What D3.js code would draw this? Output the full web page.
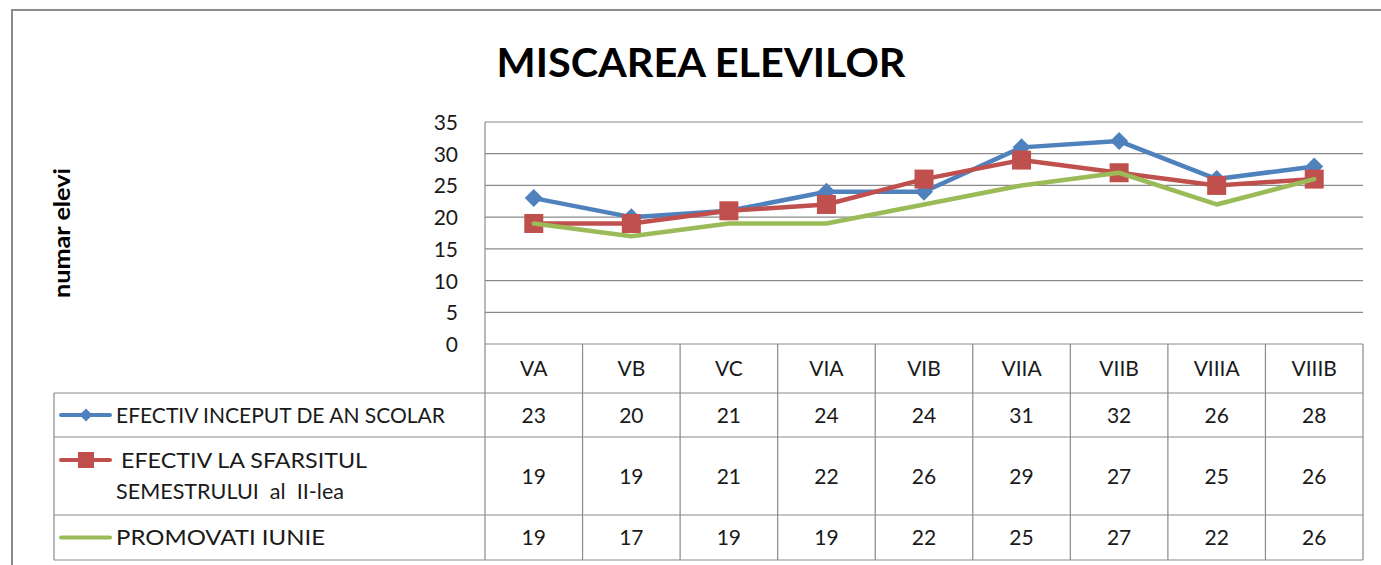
<!DOCTYPE html>
<html>
<head>
<meta charset="utf-8">
<script src="https://cdn.jsdelivr.net/npm/d3@7"></script>
<style>
html,body{margin:0;padding:0;background:#fff;}
svg{display:block;}
text{font-family:Lato,"Open Sans",sans-serif;fill:#1a1a1a;}
</style>
</head>
<body>
<svg id="chart" width="1381" height="565"></svg>
<script>
const title = "MISCAREA ELEVILOR";
const yTitle = "numar elevi";
const categories = ["VA","VB","VC","VIA","VIB","VIIA","VIIB","VIIIA","VIIIB"];
const yTicks = [0,5,10,15,20,25,30,35];
const seriesNames = ["EFECTIV INCEPUT DE AN SCOLAR", "EFECTIV LA SFARSITUL|SEMESTRULUI  al  II-lea", "PROMOVATI IUNIE"];
const inceput = [23,20,21,24,24,31,32,26,28];
const sfarsit = [19,19,21,22,26,29,27,25,26];
const promovati = [19,17,19,19,22,25,27,22,26];
const seriesColors = ["#4F81BD","#C0504D","#9BBB59"];
const seriesMarkers = ["diamond","square","none"];

(function(){
const series = [inceput, sfarsit, promovati].map((v,i)=>({name:seriesNames[i], values:v, color:seriesColors[i], marker:seriesMarkers[i]}));

const svg = d3.select("#chart");
const grid = "#8a8a8a";

// outer frame
svg.append("path").attr("d","M12,570 V10 H1390").attr("fill","none").attr("stroke","#8c8c8c").attr("stroke-width",2);

// title
svg.append("text").attr("x",701).attr("y",77).attr("text-anchor","middle")
  .attr("font-size",41).attr("font-weight","bold").attr("textLength",409).attr("lengthAdjust","spacingAndGlyphs")
  .style("fill","#000").text(title);

// y title
svg.append("text").attr("transform","translate(70,233) rotate(-90)").attr("text-anchor","middle")
  .attr("font-size",22).attr("font-weight","bold").attr("textLength",130).attr("lengthAdjust","spacingAndGlyphs")
  .style("fill","#000").text(yTitle);

const pLeft = 485, pRight = 1363, pTop = 122, pBase = 344;
const x = d3.scaleBand().domain(categories).range([pLeft,pRight]);
const y = d3.scaleLinear().domain([0,35]).range([pBase,pTop]);

// gridlines
svg.append("g").selectAll("line").data(yTicks.filter(t=>t>0)).join("line")
  .attr("x1",pLeft).attr("x2",pRight).attr("y1",d=>y(d)).attr("y2",d=>y(d))
  .attr("stroke",grid).attr("stroke-width",1.2);

// y axis labels
const yAxis = d3.axisLeft(y).tickValues(yTicks).tickSize(0).tickPadding(0);
const ya = svg.append("g").attr("transform",`translate(${458},0)`).call(yAxis);
ya.select(".domain").remove();
ya.selectAll("text").attr("font-size",21).attr("font-family","Lato").style("fill","#1a1a1a").attr("dy","0.36em");

// table
const rowsY = [344,393,437,515,560];
const legendLeft = 54;
const tg = svg.append("g").attr("stroke",grid).attr("stroke-width",1.2);
tg.append("line").attr("x1",pLeft).attr("x2",pRight).attr("y1",rowsY[0]).attr("y2",rowsY[0]);
rowsY.slice(1).forEach(ry=>tg.append("line").attr("x1",legendLeft).attr("x2",pRight).attr("y1",ry).attr("y2",ry));
tg.append("line").attr("x1",legendLeft).attr("x2",legendLeft).attr("y1",rowsY[1]).attr("y2",rowsY[4]);
tg.append("line").attr("x1",pLeft).attr("x2",pLeft).attr("y1",pTop).attr("y2",rowsY[4]);
categories.forEach(c=>{
  tg.append("line").attr("x1",x(c)+x.bandwidth()).attr("x2",x(c)+x.bandwidth()).attr("y1",rowsY[0]).attr("y2",rowsY[4]);
});

// header labels
svg.append("g").selectAll("text").data(categories).join("text")
  .attr("x",d=>x(d)+x.bandwidth()/2).attr("y",(rowsY[0]+rowsY[1])/2).attr("dy","0.36em")
  .attr("text-anchor","middle").attr("font-size",21).text(d=>d);

// value cells
series.forEach((s,i)=>{
  const cy = (rowsY[i+1]+rowsY[i+2])/2;
  svg.append("g").selectAll("text").data(s.values).join("text")
    .attr("x",(d,j)=>x(categories[j])+x.bandwidth()/2).attr("y",cy).attr("dy","0.36em")
    .attr("text-anchor","middle").attr("font-size",21).text(d=>d);
});

// markers
function drawMarker(g, type, cx, cy, size, color){
  if(type==="diamond"){
    const h = size/2;
    g.append("path").attr("d",`M0,${-h}L${h},0L0,${h}L${-h},0Z`).attr("transform",`translate(${cx},${cy})`).attr("fill",color);
  } else if(type==="square"){
    g.append("rect").attr("x",cx-size/2).attr("y",cy-size/2).attr("width",size).attr("height",size).attr("fill",color);
  }
}

// lines
const line = d3.line().x((d,j)=>x(categories[j])+x.bandwidth()/2).y(d=>y(d));
series.forEach(s=>{
  const g = svg.append("g");
  g.append("path").datum(s.values).attr("d",line).attr("fill","none").attr("stroke",s.color)
    .attr("stroke-width",4.5).attr("stroke-linejoin","round").attr("stroke-linecap","round");
  s.values.forEach((v,j)=>drawMarker(g, s.marker, x(categories[j])+x.bandwidth()/2, y(v), s.marker==="diamond"?18:19, s.color));
});

// legend rows
series.forEach((s,i)=>{
  const g = svg.append("g");
  const lines = s.name.split("|");
  const cy = lines.length>1 ? 460 : (rowsY[i+1]+rowsY[i+2])/2;
  g.append("line").attr("x1",61).attr("x2",110).attr("y1",cy).attr("y2",cy).attr("stroke",s.color).attr("stroke-width",4).attr("stroke-linecap","round");
  drawMarker(g, s.marker, 86, cy, s.marker==="diamond"?13:16, s.color);
  if(lines.length>1){
    g.append("text").attr("x",121).attr("y",460).attr("dy","0.36em").attr("font-size",21).attr("textLength",246).attr("lengthAdjust","spacingAndGlyphs").text(lines[0]);
    g.append("text").attr("x",116).attr("y",491).attr("dy","0.36em").attr("font-size",21).attr("textLength",228).attr("lengthAdjust","spacingAndGlyphs").style("white-space","pre").text(lines[1]);
  } else {
    const tl = i===0 ? 329 : 209;
    g.append("text").attr("x",116).attr("y",cy).attr("dy","0.36em").attr("font-size",21).attr("textLength",tl).attr("lengthAdjust","spacingAndGlyphs").text(s.name);
  }
});
})();
</script>
</body>
</html>
